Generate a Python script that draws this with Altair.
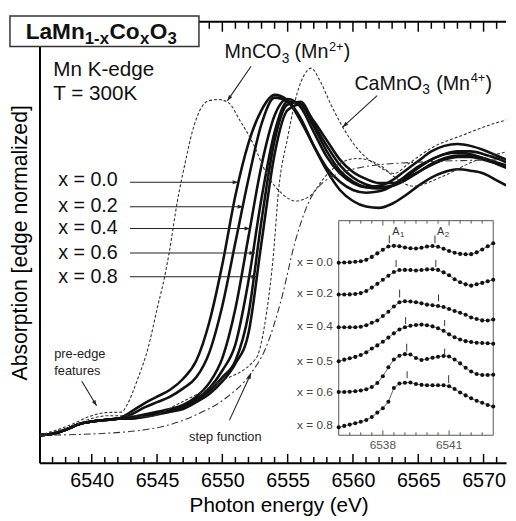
import math
import altair as alt
import pandas as pd

# ---------------- main spectra (normalized absorption) ----------------
energy = [6536, 6537, 6538, 6539, 6540, 6541, 6542, 6543, 6544, 6545, 6546, 6547,
          6548, 6549, 6550, 6551, 6552, 6553, 6554, 6555, 6556, 6557, 6558, 6559,
          6560, 6561, 6562, 6563, 6564, 6565, 6566, 6567, 6568, 6569, 6570, 6571, 6572]

mu_x00 = [0.0, 0.005, 0.02, 0.04, 0.05, 0.055, 0.06, 0.085, 0.115, 0.14, 0.165, 0.205,
          0.27, 0.41, 0.62, 0.87, 1.06, 1.18, 1.235, 1.215, 1.15, 1.05, 0.96, 0.89,
          0.85, 0.83, 0.825, 0.84, 0.87, 0.905, 0.935, 0.955, 0.965, 0.96, 0.95, 0.925, 0.90]
mu_x02 = [0.0, 0.005, 0.02, 0.04, 0.05, 0.055, 0.06, 0.075, 0.10, 0.12, 0.14, 0.17,
          0.21, 0.30, 0.47, 0.70, 0.93, 1.13, 1.225, 1.21, 1.14, 1.05, 0.97, 0.92,
          0.89, 0.88, 0.885, 0.905, 0.94, 0.975, 1.0, 1.02, 1.025, 1.02, 1.005, 0.985, 0.965]
mu_x04 = [0.0, 0.005, 0.02, 0.04, 0.05, 0.055, 0.06, 0.065, 0.075, 0.085, 0.095, 0.11,
          0.14, 0.19, 0.28, 0.46, 0.72, 0.98, 1.16, 1.22, 1.19, 1.10, 1.01, 0.95,
          0.915, 0.90, 0.905, 0.925, 0.96, 0.995, 1.03, 1.05, 1.057, 1.05, 1.035, 1.015, 0.995]
mu_x05 = [0.0, 0.005, 0.02, 0.04, 0.05, 0.055, 0.06, 0.063, 0.07, 0.08, 0.09, 0.105,
          0.13, 0.17, 0.235, 0.33, 0.56, 0.86, 1.10, 1.21, 1.20, 1.12, 1.03, 0.96,
          0.92, 0.90, 0.895, 0.905, 0.935, 0.97, 1.0, 1.02, 1.03, 1.03, 1.02, 1.005, 0.985]
mu_x06 = [0.0, 0.005, 0.02, 0.04, 0.05, 0.055, 0.06, 0.062, 0.068, 0.078, 0.088, 0.10,
          0.125, 0.16, 0.21, 0.27, 0.44, 0.78, 1.07, 1.20, 1.21, 1.13, 1.05, 0.98,
          0.935, 0.91, 0.90, 0.905, 0.925, 0.955, 0.985, 1.005, 1.015, 1.015, 1.005, 0.99, 0.975]
mu_x08 = [0.0, 0.005, 0.02, 0.04, 0.05, 0.055, 0.06, 0.06, 0.066, 0.075, 0.085, 0.095,
          0.12, 0.15, 0.195, 0.26, 0.37, 0.70, 1.02, 1.18, 1.20, 1.14, 1.07, 1.00,
          0.955, 0.93, 0.915, 0.915, 0.93, 0.955, 0.98, 1.0, 1.01, 1.01, 1.0, 0.985, 0.97]
solid_names = ["x = 0.0", "x = 0.2", "x = 0.4", "x = 0.5", "x = 0.6", "x = 0.8"]
solid_values = [mu_x00, mu_x02, mu_x04, mu_x05, mu_x06, mu_x08]

# reference compounds (dashed) and step function (dash-dot)
mnco3_E = [6536.0, 6538.3, 6540.0, 6541.05, 6542.3, 6542.64, 6543.54, 6544.3, 6545.05,
           6545.58, 6545.95, 6546.56, 6547.16, 6547.69, 6548.29, 6548.97, 6549.72, 6550.47,
           6551.3, 6552.4, 6553.3, 6554.6, 6555.6, 6556.7, 6557.9, 6559.0, 6560.3, 6562.0,
           6563.1, 6564.6, 6566.9, 6569.2, 6571.9]
mnco3_mu = [0.0, 0.036, 0.071, 0.082, 0.084, 0.105, 0.207, 0.314, 0.468,
            0.575, 0.668, 0.85, 0.99, 1.10, 1.18, 1.214, 1.218, 1.207,
            1.146, 1.054, 0.957, 0.875, 0.85, 0.868, 0.94, 0.986, 1.004, 0.982,
            0.94, 0.904, 0.94, 0.993, 1.03]
camno3_E = [6536.0, 6538.3, 6540.0, 6541.28, 6542.79, 6544.3, 6546.78, 6549.57, 6552.58,
            6553.4, 6553.9, 6554.3, 6555.0, 6555.74, 6556.3, 6556.8, 6557.48, 6558.24,
            6559.22, 6560.35, 6562.0, 6563.14, 6564.27, 6566.15, 6568.41, 6570.67, 6571.88]
camno3_mu = [0.0, 0.029, 0.061, 0.071, 0.071, 0.068, 0.118, 0.189, 0.279,
             0.45, 0.65, 0.886, 1.08, 1.243, 1.31, 1.332, 1.286, 1.207,
             1.118, 1.039, 0.975, 0.95, 0.986, 1.046, 1.089, 1.129, 1.146]
step_E = [6536.0, 6541.05, 6545.8, 6547.84, 6550.3, 6552.2, 6553.3, 6554.5, 6555.6,
          6557.1, 6559.4, 6563.1, 6571.9]
step_mu = [0.0, 0.007, 0.036, 0.071, 0.136, 0.225, 0.314, 0.49, 0.707,
           0.886, 0.957, 0.986, 1.0]

# axis ticks
major_ticks = [6540, 6545, 6550, 6555, 6560, 6565, 6570]
minor_ticks = [6537, 6538, 6539, 6541, 6542, 6543, 6544, 6546, 6547, 6548, 6549, 6551,
               6552, 6553, 6554, 6556, 6557, 6558, 6559, 6561, 6562, 6563, 6564, 6566,
               6567, 6568, 6569, 6571]

# ---------------- inset: pre-edge region (offset curves, arb. units) ----------------
inset_E = [6536.0, 6536.25, 6536.5, 6536.75, 6537.0, 6537.25, 6537.5, 6537.75, 6538.0,
           6538.25, 6538.5, 6538.75, 6539.0, 6539.25, 6539.5, 6539.75, 6540.0, 6540.25,
           6540.5, 6540.75, 6541.0, 6541.25, 6541.5, 6541.75, 6542.0, 6542.25, 6542.5,
           6542.75, 6543.0]
in_x00 = [175.3, 175.5, 175.8, 176.2, 176.8, 178.2, 181.2, 184.8, 188.5, 191.8, 192.4,
          192.0, 190.8, 189.9, 189.7, 190.5, 191.7, 192.3, 191.5, 189.5, 187.2, 185.4,
          184.3, 183.9, 184.0, 185.8, 188.8, 192.0, 195.0]
in_x02 = [143, 143, 143.1, 143.6, 144.4, 146.5, 150, 153.8, 158, 162, 165.8, 167.8, 168,
          167.9, 167.4, 167.9, 168.5, 168.7, 168, 165.5, 162.5, 158.5, 155.4, 153.3, 152,
          153.4, 154.8, 156.4, 158]
in_x04 = [109.7, 109.7, 109.7, 109.7, 110.3, 111.8, 114.2, 116.5, 121.1, 125.5, 130.8,
          135.2, 136.2, 135.9, 135.1, 134.0, 132.7, 132.0, 131.4, 130.2, 128.3, 126.2,
          124.5, 122.4, 119.7, 118.2, 116.7, 116.5, 117.5]
in_x05 = [75.2, 76.8, 78.2, 79.6, 81.5, 84.2, 88.1, 91.3, 95.0, 99.2, 103.5, 107.5, 109.7,
          111.3, 112.0, 112.4, 111.8, 110.6, 108.8, 106.1, 102.5, 99.5, 97.3, 95.6, 94.7,
          94.0, 93.8, 93.4, 93.0]
in_x06 = [44, 44, 44.2, 44.7, 45.4, 46.8, 49, 53, 60, 69, 77, 80.8, 82.4, 82, 78.5, 76.5,
          77.5, 78.7, 79.7, 80.6, 80, 77, 73, 68.5, 64.7, 62.2, 61.3, 61.2, 61.5]
in_x08 = [8, 9.5, 10.8, 12.2, 13.7, 15.5, 18.5, 23, 27.5, 34, 48, 52.5, 53.3, 53.5, 52,
          51.2, 50.8, 50.7, 50.7, 50.7, 49.7, 47, 43.5, 40.5, 37.5, 35, 33, 30.8, 29.2]
inset_values = [in_x00, in_x02, in_x04, in_x05, in_x06, in_x08]
inset_label_v = [176, 144, 111, 75, 44, 10]
# A1 / A2 feature markers: energy, bottom, top
marker_E = [6538.29, 6540.36, 6538.6, 6540.4, 6538.76, 6540.52, 6539.03, 6540.8,
            6539.08, 6540.8, 6539.1, 6540.98]
marker_lo = [195, 195, 171, 171, 140, 136, 113, 111, 85, 81, 58, 53]
marker_hi = [203, 203, 178, 178, 148, 143, 120, 117, 93, 88, 65, 61]
inset_major = [6538, 6541]
inset_minor = [6536.5, 6537.0, 6537.5, 6538.5, 6539.0, 6539.5, 6540.0, 6540.5, 6541.5,
               6542.0, 6542.5]

# ---------------- layout ----------------
W, H = 474, 448
X_DOM = [6536.0, 6571.72]
Y_DOM = [-0.1, 1.5]
FONT = "Liberation Sans"
INK = "#111111"
PX_E = W / (X_DOM[1] - X_DOM[0])
PX_M = H / (Y_DOM[1] - Y_DOM[0])
ARROW = "M0,0L0.36,1L-0.36,1Z"

dummy = pd.DataFrame({"d": [0]})


def xsc():
    return alt.Scale(domain=X_DOM, nice=False, zero=False)


def ysc():
    return alt.Scale(domain=Y_DOM, nice=False, zero=False)


def XE(f):
    return alt.X(f, type="quantitative", scale=xsc(), axis=None)


def YM(f):
    return alt.Y(f, type="quantitative", scale=ysc(), axis=None)


def head_angle(e0, m0, e1, m1):
    dx = (e1 - e0) * PX_E
    dy = -(m1 - m0) * PX_M
    return math.degrees(math.atan2(dx, -dy)) % 360


rows = []
for name, vals in zip(solid_names, solid_values):
    for e, m in zip(energy, vals):
        rows.append({"E": e, "mu": m, "series": name})
solid_df = pd.DataFrame(rows)

ref_rows = [{"E": e, "mu": m, "series": "MnCO3"} for e, m in zip(mnco3_E, mnco3_mu)]
ref_rows += [{"E": e, "mu": m, "series": "CaMnO3"} for e, m in zip(camno3_E, camno3_mu)]
ref_df = pd.DataFrame(ref_rows)
step_df = pd.DataFrame({"E": step_E, "mu": step_mu})

solid = alt.Chart(solid_df).mark_line(
    interpolate="monotone", clip=True, strokeWidth=2.6, color=INK, strokeJoin="round"
).encode(
    x=alt.X("E:Q", scale=xsc(), axis=alt.Axis(
        values=major_ticks, format="d", title="Photon energy  (eV)", grid=False,
        ticks=False, labelPadding=8, labelFontSize=20, labelColor="black",
        labelFont=FONT, domainColor="black", domainWidth=2, titleFont=FONT,
        titleFontSize=21, titleFontWeight="normal", titleColor="black", titlePadding=4,
        titleX=243, labelFlush=False, zindex=0)),
    y=alt.Y("mu:Q", scale=ysc(), axis=alt.Axis(
        labels=False, ticks=False, grid=False, domainColor="black", domainWidth=2,
        title="Absorption [edge normalized]", titleFont=FONT, titleFontSize=21.5,
        titleFontWeight="normal", titleColor="black", titlePadding=8, zindex=0)),
    detail="series:N",
)

refs = alt.Chart(ref_df).mark_line(
    interpolate="monotone", clip=True, strokeWidth=1.1, color="#333", strokeDash=[3, 2]
).encode(x=XE("E"), y=YM("mu"), detail="series:N")

step = alt.Chart(step_df).mark_line(
    interpolate="monotone", clip=True, strokeWidth=1.1, color="#333", strokeDash=[7, 3, 2, 3]
).encode(x=XE("E"), y=YM("mu"))

# ticks (pointing inward)
tick_layers = []
for vals, y0, y1 in [(minor_ticks, H, H - 6), (major_ticks, H, H - 9),
                     (minor_ticks, 0, 7), (major_ticks, 0, 10)]:
    tick_layers.append(
        alt.Chart(pd.DataFrame({"E": vals})).mark_rule(color="black", strokeWidth=1.5)
        .encode(x=XE("E"), y=alt.value(y0), y2=alt.value(y1))
    )
top_frame = alt.Chart(dummy).mark_rule(color="black", strokeWidth=2).encode(
    x=alt.value(160), x2=alt.value(W), y=alt.value(0))

# arrows
arr_E0 = [6542.93, 6542.93, 6542.93, 6542.93, 6542.93, 6552.2, 6561.85, 6539.24, 6550.54]
arr_m0 = [0.918, 0.829, 0.75, 0.661, 0.575, 1.339, 1.232, 0.196, 0.054]
arr_E1 = [6551.22, 6551.6, 6552.13, 6552.5, 6552.65, 6550.39, 6559.21, 6540.37, 6552.2]
arr_m1 = [0.918, 0.829, 0.75, 0.661, 0.575, 1.214, 1.118, 0.107, 0.225]
arrow_df = pd.DataFrame({"E0": arr_E0, "m0": arr_m0, "E1": arr_E1, "m1": arr_m1})
arrow_df["ang"] = [head_angle(a, b, c, d) for a, b, c, d in zip(arr_E0, arr_m0, arr_E1, arr_m1)]
arrow_lines = alt.Chart(arrow_df).mark_rule(color="#222", strokeWidth=1.1).encode(
    x=XE("E0"), y=YM("m0"), x2="E1:Q", y2="m1:Q")
arrow_heads = alt.Chart(arrow_df).mark_point(
    shape=ARROW, filled=True, size=130, color="#222", opacity=1, strokeWidth=0
).encode(x=XE("E1"), y=YM("m1"), angle=alt.Angle("ang:Q", scale=None))

# text annotations
series_lbl = pd.DataFrame({"t": ["x = 0.0", "x = 0.2", "x = 0.4", "x = 0.6", "x = 0.8"],
                           "E": [6537.43] * 5, "mu": [0.927, 0.832, 0.75, 0.661, 0.575]})
lbl_series = alt.Chart(series_lbl).mark_text(
    align="left", baseline="middle", font=FONT, fontSize=20, color=INK
).encode(x=XE("E"), y=YM("mu"), text="t:N")

head_lbl = pd.DataFrame({"t": ["Mn K-edge", "T = 300K"], "E": [6537.05, 6537.05],
                         "mu": [1.325, 1.239]})
lbl_head = alt.Chart(head_lbl).mark_text(
    align="left", baseline="middle", font=FONT, fontSize=21, color=INK
).encode(x=XE("E"), y=YM("mu"), text="t:N")

small_lbl = pd.DataFrame({"t": ["pre-edge", "features", "step function"],
                          "E": [6537.13, 6537.13, 6547.45], "mu": [0.296, 0.232, -0.007]})
lbl_small = alt.Chart(small_lbl).mark_text(
    align="left", baseline="middle", font=FONT, fontSize=13, color="#222"
).encode(x=XE("E"), y=YM("mu"), text="t:N")

# compound labels with sub/superscripts
comp_t = ["MnCO", "3", "(Mn", "2+", ")", "CaMnO", "3", "(Mn", "4+", ")"]
comp_E = [6550.17, 6554.54, 6555.52, 6558.16, 6559.29, 6560.11, 6565.31, 6566.37, 6569.01, 6570.14]
comp_m = [1.368, 1.350, 1.368, 1.396, 1.368, 1.254, 1.239, 1.254, 1.282, 1.254]
comp_s = [20, 14, 20, 13, 20, 20, 14, 20, 13, 20]
comp_df = pd.DataFrame({"t": comp_t, "E": comp_E, "mu": comp_m, "fs": comp_s})
lbl_comp = alt.Chart(comp_df).mark_text(
    align="left", baseline="alphabetic", font=FONT, color=INK
).encode(x=XE("E"), y=YM("mu"), text="t:N", size=alt.Size("fs:Q", scale=None))

# title box
box = alt.Chart(dummy).mark_rect(fill="white", stroke="#333", strokeWidth=1.5).encode(
    x=alt.value(-30), x2=alt.value(162), y=alt.value(-6), y2=alt.value(25))
title_parts = [("LaMn", -14, 17, 23), ("1-x", 46, 22, 17), ("Co", 71, 17, 23),
               ("x", 102, 22, 17), ("O", 112, 17, 23), ("3", 130, 22, 17)]
title_layers = [
    alt.Chart(dummy).mark_text(align="left", baseline="alphabetic", font=FONT,
                               fontWeight="bold", fontSize=fs, color=INK, text=t)
    .encode(x=alt.value(px), y=alt.value(py))
    for t, px, py, fs in title_parts
]

# ---------------- inset ----------------
def xi():
    return alt.Scale(domain=[6536, 6543], range=[304, 461], nice=False, zero=False)


def yi():
    return alt.Scale(domain=[0, 218], range=[420, 202], nice=False, zero=False)


def XI(f):
    return alt.X(f, type="quantitative", scale=xi(), axis=None)


def YI(f):
    return alt.Y(f, type="quantitative", scale=yi(), axis=None)


in_rows = []
for name, vals in zip(solid_names, inset_values):
    for e, v in zip(inset_E, vals):
        in_rows.append({"E": e, "v": v, "series": name})
inset_df = pd.DataFrame(in_rows)

in_frame = alt.Chart(dummy).mark_rect(fill="white", stroke="#555", strokeWidth=1).encode(
    x=alt.value(304), x2=alt.value(461), y=alt.value(202), y2=alt.value(420))
in_ticks = []
for vals, y0, y1 in [(inset_minor, 420, 417), (inset_major, 420, 415),
                     (inset_minor, 202, 205), (inset_major, 202, 207)]:
    in_ticks.append(
        alt.Chart(pd.DataFrame({"E": vals})).mark_rule(color="#555", strokeWidth=1)
        .encode(x=XI("E"), y=alt.value(y0), y2=alt.value(y1)))
in_lines = alt.Chart(inset_df).mark_line(color="#666", strokeWidth=1).encode(
    x=XI("E"), y=YI("v"), detail="series:N")
in_pts = alt.Chart(inset_df).mark_circle(size=17, color=INK, opacity=1).encode(
    x=XI("E"), y=YI("v"))
marker_df = pd.DataFrame({"E": marker_E, "lo": marker_lo, "hi": marker_hi})
in_marks = alt.Chart(marker_df).mark_rule(color="#333", strokeWidth=1).encode(
    x=XI("E"), y=YI("lo"), y2="hi:Q")
in_lbl = alt.Chart(pd.DataFrame({"t": solid_names, "v": inset_label_v})).mark_text(
    align="right", baseline="middle", font=FONT, fontSize=12, color="#444"
).encode(x=alt.value(298), y=YI("v"), text="t:N")
in_tlbl = alt.Chart(pd.DataFrame({"E": inset_major, "t": ["6538", "6541"]})).mark_text(
    align="center", baseline="middle", font=FONT, fontSize=12, color="#555"
).encode(x=XI("E"), y=alt.value(430), text="t:N")
a_df = pd.DataFrame({"t": ["A", "A"], "E": [6538.42, 6540.45], "v": [206, 206]})
a_sub = pd.DataFrame({"t": ["1", "2"], "E": [6538.78, 6540.8], "v": [203, 203]})
in_a = alt.Chart(a_df).mark_text(align="left", baseline="middle", font=FONT, fontSize=11,
                                 color="#333").encode(x=XI("E"), y=YI("v"), text="t:N")
in_a2 = alt.Chart(a_sub).mark_text(align="left", baseline="middle", font=FONT, fontSize=8,
                                   color="#333").encode(x=XI("E"), y=YI("v"), text="t:N")

layers = [solid, refs, step, *tick_layers, top_frame, arrow_lines, arrow_heads,
          lbl_series, lbl_head, lbl_small, lbl_comp, box, *title_layers,
          in_frame, *in_ticks, in_lines, in_pts, in_marks, in_lbl, in_tlbl, in_a, in_a2]

chart = alt.layer(*layers).resolve_scale(x="independent", y="independent").properties(
    width=W, height=H,
    padding={"left": 32, "top": 10, "right": 2, "bottom": 52},
    autosize=alt.AutoSizeParams(type="none"),
    background="white",
).configure_view(stroke=None)

chart.save("out.html", embed_options={"renderer": "svg", "actions": False})
